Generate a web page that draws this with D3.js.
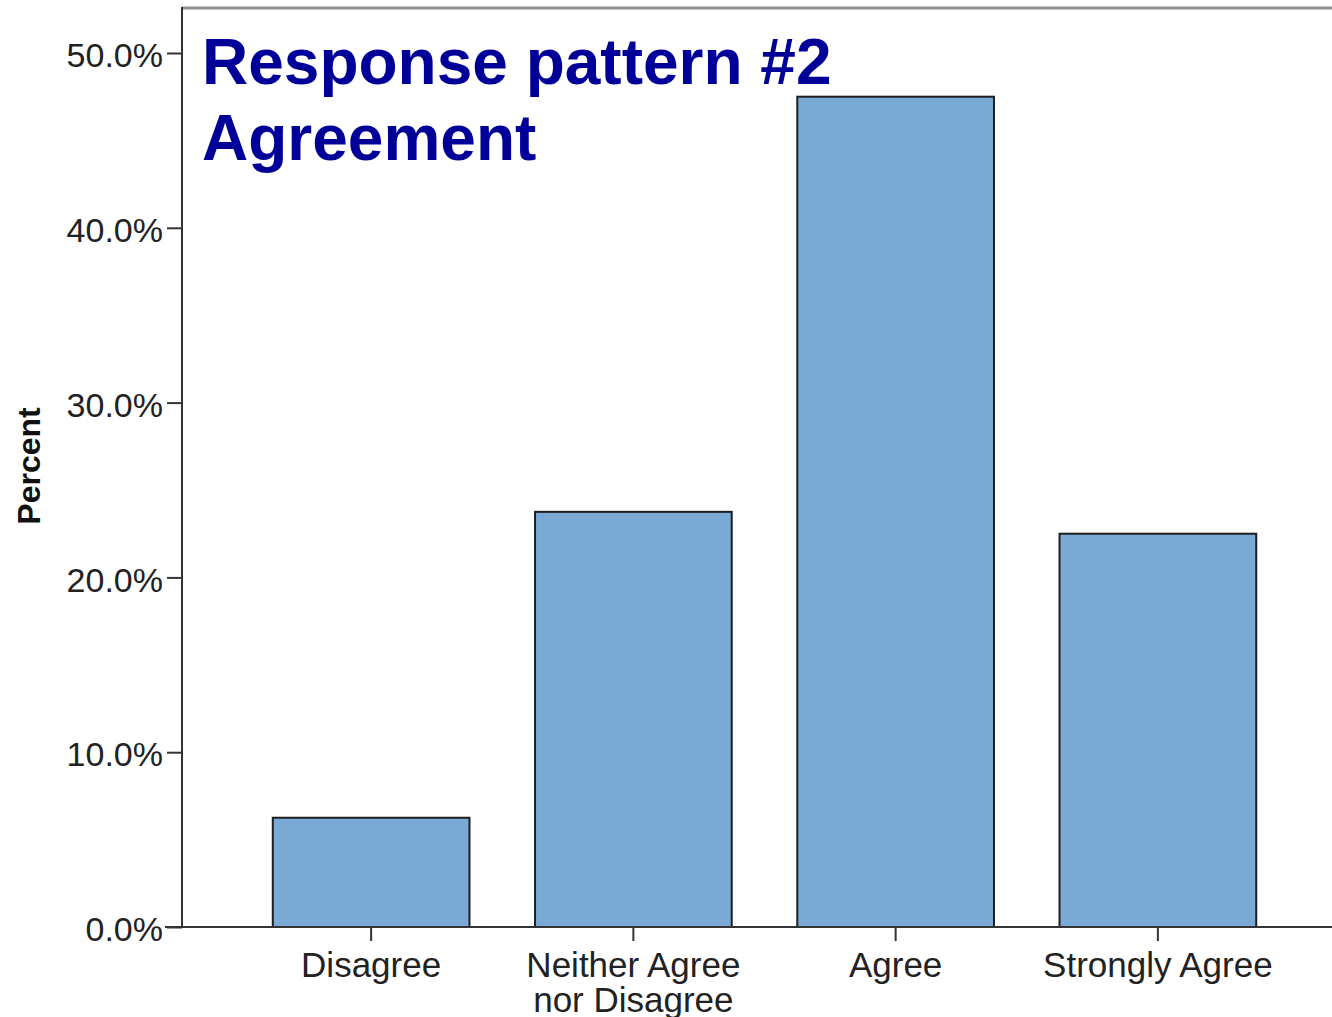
<!DOCTYPE html>
<html>
<head>
<meta charset="utf-8">
<script src="https://cdn.jsdelivr.net/npm/d3@7"></script>
<style>
  html, body { margin: 0; padding: 0; background: #fff; }
  svg { display: block; font-family: "Liberation Sans", Arial, sans-serif; }
</style>
</head>
<body>
<div class="container"></div>
<script>
// data
const categories = ["Disagree", "Neither Agree\nnor Disagree", "Agree", "Strongly Agree"];
const percents = [6.25, 23.75, 47.5, 22.5];
const yTicks = [0, 10, 20, 30, 40, 50];
const titleLines = ["Response pattern #2", "Agreement"];

const width = 1332;
const height = 1017;
const axisX = 182;
const axisY = 927;
const topY = 8;

const svg = d3
  .select(".container")
  .append("svg")
  .attr("width", width)
  .attr("height", height);

let x = d3
  .scaleBand()
  .domain(categories)
  .range([240, 1289])
  .paddingInner(0.25)
  .paddingOuter(0.125);

let y = d3
  .scaleLinear()
  .domain([0, 50])
  .range([axisY, 53]);

// bars
svg
  .append("g")
  .selectAll("rect")
  .data(percents)
  .join("rect")
  .attr("x", (d, i) => x(categories[i]))
  .attr("y", d => y(d))
  .attr("width", x.bandwidth())
  .attr("height", d => y(0) - y(d))
  .attr("fill", "#7ba9d6")
  .attr("stroke", "#1e1e1e")
  .attr("stroke-width", 2);

// frame: gray top edge, dark axes
svg
  .append("line")
  .attr("x1", axisX)
  .attr("x2", width)
  .attr("y1", topY)
  .attr("y2", topY)
  .attr("stroke", "#8f8f8f")
  .attr("stroke-width", 3);

// y axis
let yAxis = svg
  .append("g")
  .attr("transform", `translate(${axisX},0)`)
  .call(
    d3
      .axisLeft(y)
      .tickValues(yTicks)
      .tickSize(15)
      .tickPadding(4)
      .tickFormat(d => d3.format(".1f")(d) + "%")
  );
yAxis.select(".domain").remove();
yAxis.selectAll(".tick line").attr("stroke", "#333").attr("stroke-width", 2);
yAxis
  .selectAll(".tick text")
  .attr("fill", "#222")
  .attr("font-size", 34)
  .attr("font-family", "Liberation Sans, Arial, sans-serif")
  .attr("dy", "0.4em");

svg
  .append("line")
  .attr("x1", axisX)
  .attr("x2", axisX)
  .attr("y1", topY - 1)
  .attr("y2", axisY)
  .attr("stroke", "#333")
  .attr("stroke-width", 2);

// x axis
let xAxis = svg
  .append("g")
  .attr("transform", `translate(0,${axisY})`)
  .call(d3.axisBottom(x).tickSize(14).tickFormat(""));
xAxis.select(".domain").remove();
xAxis.selectAll(".tick line").attr("stroke", "#333").attr("stroke-width", 2);

svg
  .append("line")
  .attr("x1", 165)
  .attr("x2", width)
  .attr("y1", axisY)
  .attr("y2", axisY)
  .attr("stroke", "#333")
  .attr("stroke-width", 2);

let xLabels = svg
  .append("g")
  .selectAll("text")
  .data(categories)
  .join("text")
  .attr("x", d => x(d) + x.bandwidth() / 2)
  .attr("y", 977)
  .attr("text-anchor", "middle")
  .attr("font-size", 35)
  .attr("fill", "#222");
xLabels
  .selectAll("tspan")
  .data(d => d.split("\n"))
  .join("tspan")
  .attr("x", function () {
    return this.parentNode.getAttribute("x");
  })
  .attr("dy", (d, i) => (i === 0 ? 0 : 35))
  .text(d => d);

// y axis title
svg
  .append("text")
  .attr("transform", "translate(40,466) rotate(-90)")
  .attr("text-anchor", "middle")
  .attr("font-size", 32)
  .attr("font-weight", "bold")
  .attr("fill", "#111")
  .text("Percent");

// chart title
svg
  .append("g")
  .selectAll("text")
  .data(titleLines)
  .join("text")
  .attr("x", 202)
  .attr("y", (d, i) => 84 + i * 76)
  .attr("font-size", 64)
  .attr("font-weight", "bold")
  .attr("fill", "#000099")
  .text(d => d);
</script>
</body>
</html>
